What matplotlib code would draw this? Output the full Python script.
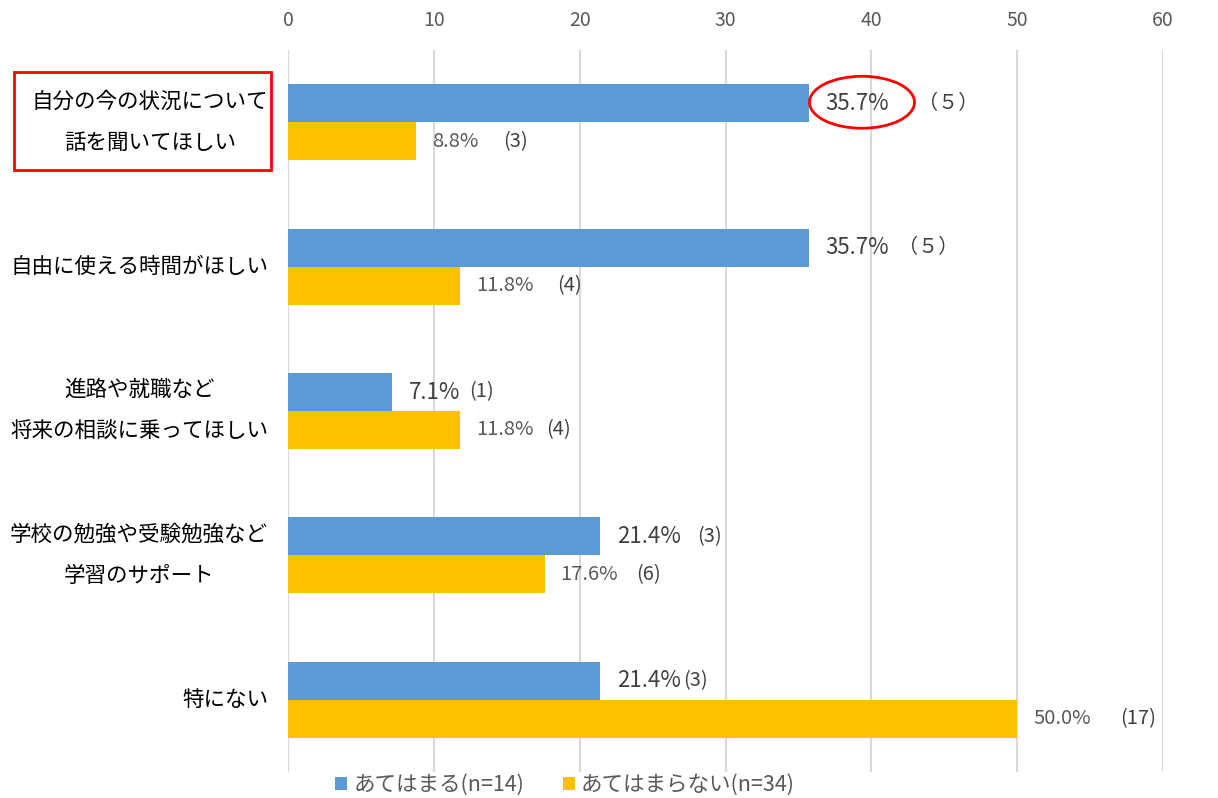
import numpy as np
import matplotlib.pyplot as plt
import matplotlib.transforms as mtransforms
from matplotlib.patches import Ellipse, Rectangle

plt.rcParams['font.family'] = ['Noto Sans CJK JP', 'DejaVu Sans']

# categories, top to bottom
categories = ['自分の今の状況について\n話を聞いてほしい',
              '自由に使える時間がほしい',
              '進路や就職など\n将来の相談に乗ってほしい',
              '学校の勉強や受験勉強など\n学習のサポート',
              '特にない']
applies = [35.7, 35.7, 7.1, 21.4, 21.4]          # あてはまる(n=14)
not_applies = [8.8, 11.8, 11.8, 17.6, 50.0]      # あてはまらない(n=34)
applies_n = ['（５）', '（５）', '(1)', '(3)', '(3)']
not_applies_n = ['(3)', '(4)', '(4)', '(6)', '(17)']
legend_labels = ['あてはまる(n=14)', 'あてはまらない(n=34)']
xticks = [0, 10, 20, 30, 40, 50, 60]

# pixel offsets of the count labels from the bar end
applies_n_off = [109, 89, 78, 97, 83]
not_applies_n_off = [87, 97, 86, 91, 103]

blue = '#5B9BD5'
orange = '#FFC000'

fig = plt.figure(figsize=(12.18, 7.98), dpi=100)
ax = fig.add_axes([288 / 1218, 26 / 798, 875 / 1218, 722 / 798])

y = np.arange(len(categories))
h = 0.263
b1 = ax.barh(y - h / 2, applies, height=h, color=blue, label=legend_labels[0], zorder=3)
b2 = ax.barh(y + h / 2, not_applies, height=h, color=orange, label=legend_labels[1], zorder=3)

ax.set_xlim(0, 60)
ax.set_ylim(len(categories) - 0.5, -0.5)
ax.set_xticks(xticks)
ax.xaxis.tick_top()
ax.tick_params(axis='x', length=0, pad=14, labelsize=14, labelcolor='#595959')
ax.set_yticks(y)
ax.set_yticklabels([])
ax.tick_params(axis='y', length=0)
ax.grid(axis='x', color='#d9d9d9', linewidth=1.5, zorder=0)
for s in ax.spines.values():
    s.set_visible(False)

# category labels, drawn as text so multi-line ones keep centred lines
base = mtransforms.blended_transform_factory(ax.transAxes, ax.transData)
for i, cat in enumerate(categories):
    tr = base + mtransforms.ScaledTranslation(-20 / 100, 0, fig.dpi_scale_trans)
    ax.text(0, y[i], cat, transform=tr, ha='right', va='center', multialignment='center',
            fontsize=15.5, color='#000000', linespacing=2.15)

px = 72 / 100  # one pixel in points
for i in range(len(categories)):
    ax.annotate(f'{applies[i]:.1f}%', (applies[i], y[i] - h / 2), xytext=(17 * px, 0),
                textcoords='offset points', va='center', ha='left',
                fontsize=16, color='#404040')
    ax.annotate(applies_n[i], (applies[i], y[i] - h / 2), xytext=(applies_n_off[i] * px, 0),
                textcoords='offset points', va='center', ha='left',
                fontsize=14.5, color='#404040')
    ax.annotate(f'{not_applies[i]:.1f}%', (not_applies[i], y[i] + h / 2), xytext=(16 * px, 0),
                textcoords='offset points', va='center', ha='left',
                fontsize=14.5, color='#595959')
    ax.annotate(not_applies_n[i], (not_applies[i], y[i] + h / 2),
                xytext=(not_applies_n_off[i] * px, 0),
                textcoords='offset points', va='center', ha='left',
                fontsize=14.5, color='#404040')

# red ellipse around the first value and red box around the first label
ax.add_patch(Ellipse((39.36, -0.138), 7.2, 0.36, fill=False, edgecolor='#FF0000',
                     linewidth=2, clip_on=False, zorder=5))
fig.add_artist(Rectangle((14 / 1218, 1 - 170 / 798), 257 / 1218, 98 / 798,
                         transform=fig.transFigure, fill=False,
                         edgecolor='#FF0000', linewidth=2))

fig.legend(handles=[b1, b2], labels=legend_labels, loc='center',
           bbox_to_anchor=(565 / 1218, 1 - 785 / 798), ncol=2, frameon=False,
           fontsize=15.5, labelcolor='#595959', handlelength=0.55, handleheight=0.55,
           handletextpad=0.3, columnspacing=1.8)

fig.savefig('out.png', dpi=100)
